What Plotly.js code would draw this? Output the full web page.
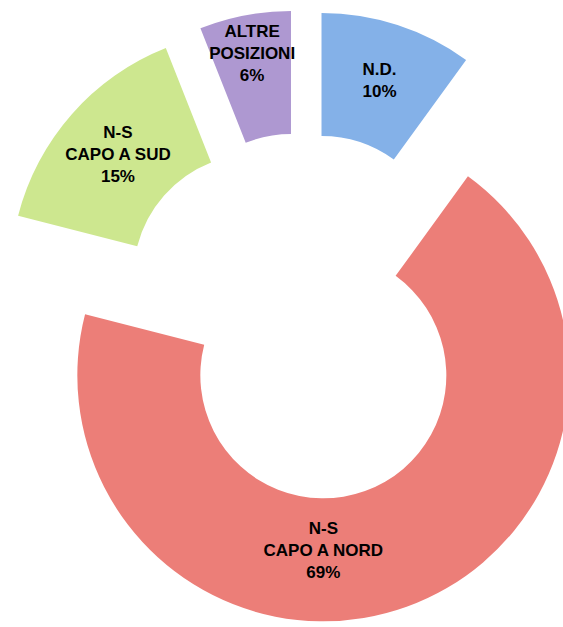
<!DOCTYPE html>
<html>
<head>
<meta charset="utf-8">
<script src="https://cdn.plot.ly/plotly-3.0.1.min.js"></script>
<style>
  html, body { margin: 0; padding: 0; background: #ffffff; overflow: hidden; width: 563px; height: 627px; }
  #chart { position: absolute; left: -5px; top: 10px; width: 615px; height: 615px; }
</style>
</head>
<body>
<div id="chart"></div>
<script>
// Data
const labels = ["N.D.", "N-S<br>CAPO A NORD", "N-S<br>CAPO A SUD", "ALTRE<br>POSIZIONI"];
const values = [10, 69, 15, 6];
const colors = ["#84b1e8", "#ec7e78", "#cde78f", "#ae98d1"];
const pulls = [0.25, 0.25, 0.25, 0.25];

const trace = {
  type: "pie",
  labels: labels,
  values: values,
  sort: false,
  direction: "clockwise",
  rotation: 0,
  hole: 0.5,
  pull: pulls,
  marker: { colors: colors, line: { width: 0 } },
  textinfo: "label+percent",
  textposition: "inside",
  insidetextorientation: "horizontal",
  insidetextfont: { family: "Liberation Sans, Arial, sans-serif", size: 17, color: "#000000", weight: "bold" },
  hoverinfo: "none",
  showlegend: false
};

const layout = {
  width: 615,
  height: 615,
  margin: { l: 0, r: 0, t: 0, b: 0, pad: 0 },
  paper_bgcolor: "#ffffff",
  plot_bgcolor: "#ffffff",
  showlegend: false,
  uniformtext: { minsize: 17, mode: "show" }
};

Plotly.newPlot("chart", [trace], layout, { displayModeBar: false, staticPlot: true });
</script>
</body>
</html>
